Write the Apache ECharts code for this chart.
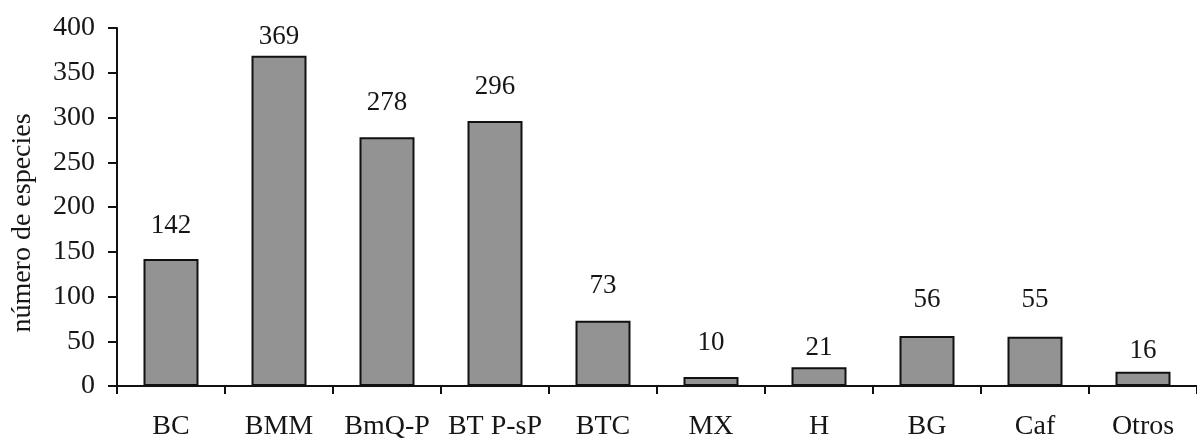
<!DOCTYPE html>
<html>
<head>
<meta charset="utf-8">
<script src="https://cdn.jsdelivr.net/npm/echarts@6/dist/echarts.min.js"></script>
<style>
  html, body { margin: 0; padding: 0; background: #ffffff; }
  #chart { width: 1197px; height: 441px; }
</style>
</head>
<body>
<div id="chart"></div>
<script>
// Species count per vegetation type
const categories = ['BC', 'BMM', 'BmQ-P', 'BT P-sP', 'BTC', 'MX', 'H', 'BG', 'Caf', 'Otros'];
const speciesCounts = [142, 369, 278, 296, 73, 10, 21, 56, 55, 16];
const yTicks = { min: 0, max: 400, interval: 50 };

// Gap (px) between each bar top and its value label
const labelGaps = [20, 5, 21, 21, 21, 21, 6, 22, 23, 7];

const FONT = '"Liberation Serif", "Times New Roman", serif';
const TEXT = '#161616';

const chart = echarts.init(document.getElementById('chart'), null, { renderer: 'canvas' });

chart.setOption({
  backgroundColor: '#ffffff',
  animation: false,
  grid: { left: 117, top: 28, width: 1087, height: 359, containLabel: false },
  xAxis: {
    type: 'category',
    data: categories,
    boundaryGap: true,
    axisLine: { show: true, lineStyle: { color: '#111', width: 2 } },
    axisTick: { show: true, length: 8, lineStyle: { color: '#111', width: 2 } },
    axisLabel: { interval: 0, color: TEXT, fontFamily: FONT, fontSize: 28, margin: 27 },
    splitLine: { show: false }
  },
  yAxis: {
    type: 'value',
    min: yTicks.min,
    max: yTicks.max,
    interval: yTicks.interval,
    name: 'número de especies',
    nameLocation: 'middle',
    nameGap: 80,
    nameTextStyle: { color: TEXT, fontFamily: FONT, fontSize: 28, padding: [0, 32, 0, 0] },
    axisLine: { show: true, lineStyle: { color: '#111', width: 2 } },
    axisTick: { show: true, length: 9, lineStyle: { color: '#111', width: 2 } },
    axisLabel: { color: TEXT, fontFamily: FONT, fontSize: 28, margin: 22 },
    splitLine: { show: false }
  },
  series: [{
    type: 'bar',
    barWidth: 55,
    data: speciesCounts.map((v, i) => ({
      value: v,
      label: { distance: labelGaps[i] }
    })),
    itemStyle: { color: '#939393', borderColor: '#111', borderWidth: 2 },
    label: {
      show: true,
      position: 'top',
      color: TEXT,
      fontFamily: FONT,
      fontSize: 27
    }
  }]
});
</script>
</body>
</html>
